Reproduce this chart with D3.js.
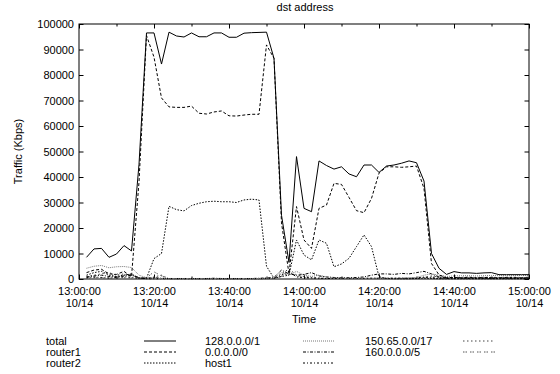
<!DOCTYPE html>
<html>
<head>
<meta charset="utf-8">
<script src="https://cdn.jsdelivr.net/npm/d3@7"></script>
<style>
  body { margin: 0; background: #fff; }
  svg { display: block; font-family: "Liberation Sans", Arial, sans-serif; }
  text { fill: #000; }
</style>
</head>
<body>
<svg id="chart" width="560" height="374"></svg>
<script>
// sample times (2 minute steps)
const times = [
  "13:02","13:04","13:06","13:08","13:10","13:12","13:14","13:16","13:18","13:20",
  "13:22","13:24","13:26","13:28","13:30","13:32","13:34","13:36","13:38","13:40",
  "13:42","13:44","13:46","13:48","13:50","13:52","13:54","13:56","13:58","14:00",
  "14:02","14:04","14:06","14:08","14:10","14:12","14:14","14:16","14:18","14:20",
  "14:22","14:24","14:26","14:28","14:30","14:32","14:34","14:36","14:38","14:40",
  "14:42","14:44","14:46","14:48","14:50","14:52","14:54","14:56","14:58","15:00"
];

const total = [
  8500, 11800, 12000, 8500, 9800, 13100, 11000, 45000, 96500, 96500,
  84300, 96800, 95300, 94900, 96500, 95000, 95000, 96500, 96500, 94800,
  94800, 96400, 96600, 96700, 96800, 86500, 25000, 6500, 48000, 27700,
  26400, 46300, 44500, 43100, 44000, 41200, 40100, 44700, 44700, 41800,
  44300, 44700, 45400, 46300, 45600, 38400, 10000, 4200, 1800, 2900,
  2400, 2400, 2200, 2400, 2500, 1700, 1700, 1700, 1700, 1700
];
const router1 = [
  2500, 3500, 3800, 2000, 1800, 3000, 900, 38000, 95500, 87000,
  71000, 67500, 67300, 67300, 67800, 65000, 64700, 65500, 65900, 64000,
  63900, 64300, 64600, 64600, 91800, 86500, 22000, 2000, 28400, 15300,
  12000, 27700, 29000, 37500, 37100, 32000, 26800, 26000, 31600, 41500,
  44000, 44000, 43800, 44000, 44300, 35500, 6100, 1600, 500, 600,
  500, 700, 400, 600, 500, 400, 600, 500, 400, 500
];
const router2 = [
  1500, 2500, 3000, 1500, 1000, 1500, 2000, 300, 300, 8000,
  10000, 28500, 27200, 26700, 28800, 29700, 30300, 30500, 30300, 30300,
  30000, 31000, 31300, 31000, 5000, 300, 1000, 1500, 15300, 9400,
  7500, 15300, 14000, 4800, 5900, 8100, 12700, 17300, 12700, 900,
  200, 100, 100, 100, 200, 300, 200, 100, 100, 100,
  100, 100, 100, 100, 100, 100, 100, 100, 100, 100
];
const net128 = [
  4200, 5000, 5300, 4400, 4800, 4900, 4500, 1500, 500, 300,
  200, 100, 100, 100, 100, 100, 100, 100, 100, 100,
  100, 100, 100, 200, 300, 500, 2500, 1500, 3000, 1500,
  1000, 1500, 800, 500, 400, 300, 300, 300, 300, 300,
  300, 300, 400, 500, 600, 1500, 2000, 1500, 1000, 1200,
  1300, 1300, 1200, 1300, 1400, 1300, 1300, 1300, 1400, 1300
];
const net0 = [
  800, 1200, 1500, 1000, 800, 1200, 1500, 600, 200, 500,
  300, 200, 200, 200, 200, 200, 200, 300, 200, 200,
  200, 200, 200, 300, 400, 600, 3500, 2000, 1500, 1800,
  2500, 1200, 800, 600, 500, 500, 600, 800, 1500, 2000,
  2000, 1800, 2200, 2000, 2500, 3000, 2000, 800, 600, 500,
  400, 400, 400, 400, 400, 400, 400, 400, 400, 400
];
const host1 = [
  500, 800, 600, 400, 600, 900, 700, 300, 100, 100,
  100, 100, 100, 100, 100, 100, 100, 100, 100, 100,
  100, 100, 100, 100, 200, 400, 1500, 3000, 800, 600,
  400, 300, 200, 200, 200, 200, 200, 200, 300, 300,
  300, 300, 300, 300, 400, 800, 500, 300, 200, 200,
  200, 200, 200, 200, 200, 200, 200, 200, 200, 200
];
const net150 = [
  1000, 1500, 2000, 2500, 1500, 2000, 1500, 500, 200, 800,
  1500, 100, 100, 100, 100, 100, 100, 100, 100, 100,
  100, 100, 100, 100, 200, 300, 2000, 4000, 1500, 1000,
  600, 400, 300, 300, 300, 300, 300, 300, 300, 300,
  300, 300, 300, 300, 300, 600, 1200, 800, 500, 600,
  700, 700, 600, 700, 700, 600, 700, 700, 600, 700
];
const net160 = [
  300, 500, 400, 300, 400, 500, 400, 200, 500, 2800,
  1200, 100, 100, 100, 100, 100, 100, 100, 100, 100,
  100, 100, 100, 100, 100, 200, 1000, 2500, 1000, 500,
  300, 200, 200, 200, 200, 200, 200, 200, 200, 200,
  200, 200, 200, 200, 200, 400, 800, 600, 400, 400,
  400, 400, 400, 400, 400, 400, 400, 400, 400, 400
];

const xTickLabels = ["13:00:00","13:20:00","13:40:00","14:00:00","14:20:00","14:40:00","15:00:00"];
const dateLabel = "10/14";
const yTicks = [0,10000,20000,30000,40000,50000,60000,70000,80000,90000,100000];

const series = [
  {name: "total", values: total, dash: null, color: "#000"},
  {name: "router1", values: router1, dash: "3,2", color: "#000"},
  {name: "router2", values: router2, dash: "1.5,1.5", color: "#000"},
  {name: "128.0.0.0/1", values: net128, dash: "1,1", color: "#777"},
  {name: "0.0.0.0/0", values: net0, dash: "3,1.5,1,1.5", color: "#000"},
  {name: "host1", values: host1, dash: "2,2,1,2", color: "#000"},
  {name: "150.65.0.0/17", values: net150, dash: "1.5,2.5", color: "#444"},
  {name: "160.0.0.0/5", values: net160, dash: "1.5,1,1.5,3", color: "#555"},
];

const parse = d3.timeParse("%H:%M");
const tDates = times.map(parse);

const svg = d3.select("#chart");
const m = {top: 24, right: 31, bottom: 95, left: 79};
const W = 560, H = 374;

const x = d3.scaleTime()
  .domain([parse("13:00"), parse("15:00")])
  .range([m.left, W - m.right]);
const y = d3.scaleLinear().domain([0, 100000]).range([H - m.bottom, m.top]);

const majorX = xTickLabels.map(s => d3.timeParse("%H:%M:%S")(s));
const minorX = d3.timeMinute.every(10).range(parse("13:00"), parse("15:01"));

// minor ticks
for (const [gen, ty] of [[d3.axisBottom, H - m.bottom], [d3.axisTop, m.top]]) {
  svg.append("g")
    .attr("transform", `translate(0,${ty})`)
    .call(gen(x).tickValues(minorX).tickSize(-2.5).tickFormat(""))
    .call(g => g.select(".domain").remove());
}

// x axis bottom with labels
const gx = svg.append("g")
  .attr("transform", `translate(0,${H - m.bottom})`)
  .call(d3.axisBottom(x).tickValues(majorX).tickSize(-4.5).tickPadding(8)
    .tickFormat(d3.timeFormat("%H:%M:%S")));
gx.select(".domain").remove();
gx.selectAll(".tick text").attr("font-size", 11).attr("font-family", null)
  .each(function() {
    const t = d3.select(this);
    const lbl = t.text();
    t.text(null);
    t.append("tspan").attr("x", 0).attr("dy", "0.71em").text(lbl);
    t.append("tspan").attr("x", 0).attr("dy", "1.15em").text(dateLabel);
  });
gx.selectAll(".tick text").attr("dy", null);

svg.append("g")
  .attr("transform", `translate(0,${m.top})`)
  .call(d3.axisTop(x).tickValues(majorX).tickSize(-4.5).tickFormat(""))
  .call(g => g.select(".domain").remove());

// y axis
const gy = svg.append("g")
  .attr("transform", `translate(${m.left},0)`)
  .call(d3.axisLeft(y).tickValues(yTicks).tickSize(-4.5).tickPadding(5).tickFormat(d3.format("d")));
gy.select(".domain").remove();
gy.selectAll(".tick text").attr("font-size", 11).attr("font-family", null);

svg.append("g")
  .attr("transform", `translate(${W - m.right},0)`)
  .call(d3.axisRight(y).tickValues(yTicks).tickSize(-4.5).tickFormat(""))
  .call(g => g.select(".domain").remove());

svg.selectAll(".tick line").attr("stroke", "#000");

// border
svg.append("rect")
  .attr("x", m.left).attr("y", m.top)
  .attr("width", W - m.right - m.left).attr("height", H - m.bottom - m.top)
  .attr("fill", "none").attr("stroke", "#000").attr("stroke-width", 1);

// lines
const line = d3.line().x((d, i) => x(tDates[i])).y(d => y(d));
const drawOrder = series.slice().reverse();
svg.append("g").selectAll("path")
  .data(drawOrder)
  .join("path")
  .attr("fill", "none")
  .attr("stroke", d => d.color)
  .attr("stroke-width", 1)
  .attr("stroke-dasharray", d => d.dash)
  .attr("d", d => line(d.values));

// titles
svg.append("text").attr("x", 305).attr("y", 11).attr("text-anchor", "middle")
  .attr("font-size", 11).text("dst address");
svg.append("text").attr("x", 304).attr("y", 323).attr("text-anchor", "middle")
  .attr("font-size", 11).text("Time");
svg.append("text")
  .attr("transform", `translate(22,${(m.top + H - m.bottom) / 2}) rotate(-90)`)
  .attr("text-anchor", "middle").attr("font-size", 11).text("Traffic (Kbps)");

// legend: 3 columns
const colX = [46, 205, 365];
const rowY = [341, 352, 363];
const lg = svg.append("g").selectAll("g")
  .data(series)
  .join("g")
  .attr("transform", (d, i) => `translate(${colX[Math.floor(i / 3)]},${rowY[i % 3]})`);
lg.append("text").attr("x", 0).attr("y", 4).attr("font-size", 11).text(d => d.name);
lg.append("line")
  .attr("x1", 98).attr("x2", 130).attr("y1", 0).attr("y2", 0)
  .attr("stroke", d => d.color)
  .attr("stroke-dasharray", d => d.dash);
</script>
</body>
</html>
